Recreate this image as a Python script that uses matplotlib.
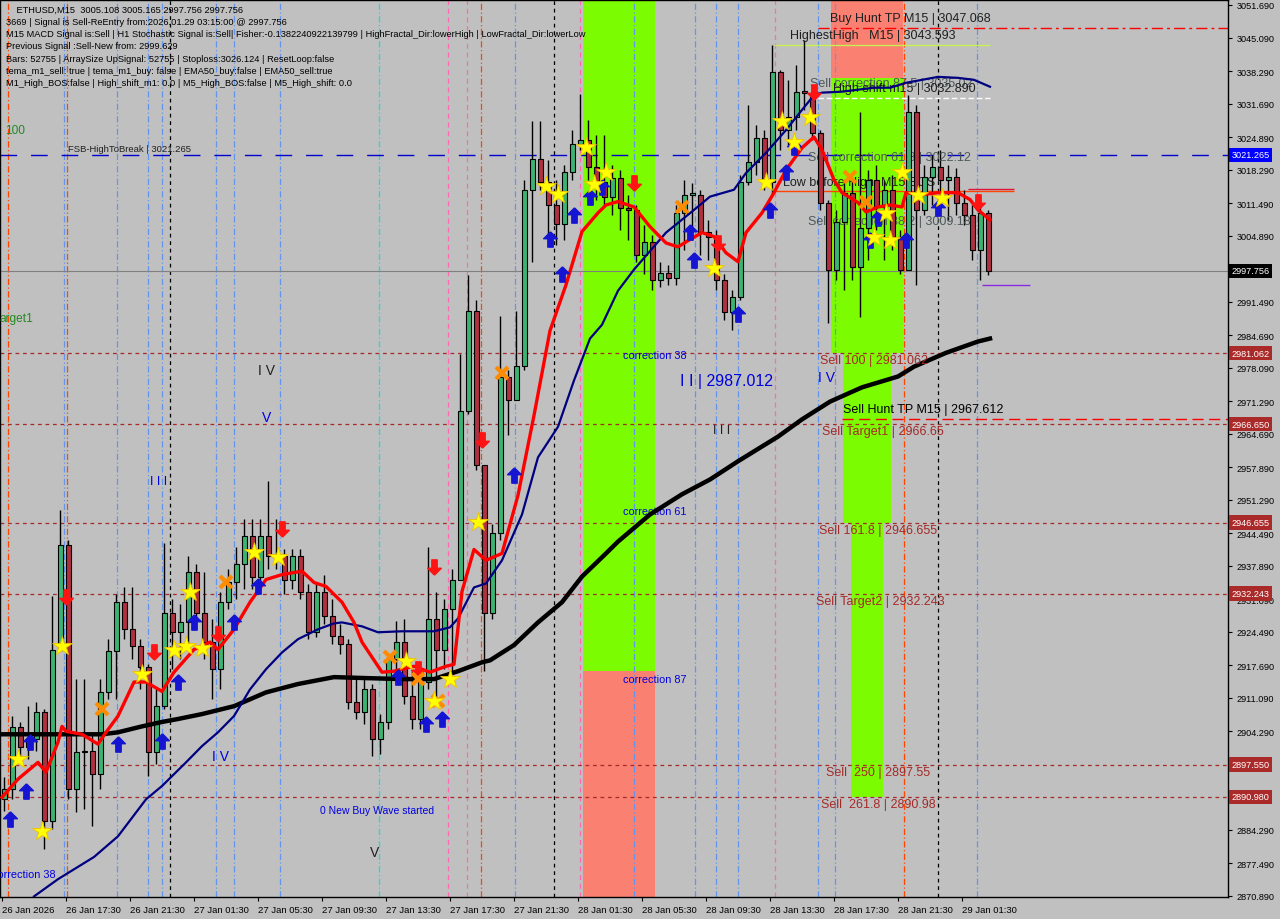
import matplotlib

matplotlib.use("Agg")
import matplotlib.pyplot as plt
from matplotlib.transforms import blended_transform_factory

plt.rcParams['font.family'] = ['Liberation Sans', 'DejaVu Sans']

# ETHUSD M15, drawn as 30-minute candles (bar index = M15 bars from 26 Jan 13:30)
first_open = 2890.5
close = [2892.6, 2905.1, 2901.1, 2902.7, 2908.2, 2886.1, 2920.9, 2942.2, 2892.6, 2900.1,
         2900.3, 2895.6, 2912.2, 2920.6, 2930.5, 2925.0, 2921.6, 2917.3, 2900.1, 2909.4,
         2928.4, 2924.4, 2926.4, 2936.6, 2928.4, 2922.4, 2916.9, 2930.5, 2934.5, 2938.2,
         2943.9, 2935.7, 2943.9, 2939.8, 2939.8, 2935.1, 2939.8, 2932.5, 2924.4, 2932.5,
         2927.6, 2923.6, 2922.0, 2910.2, 2908.2, 2912.8, 2902.7, 2906.2, 2918.9, 2922.4,
         2911.4, 2906.8, 2914.3, 2927.0, 2920.9, 2929.1, 2935.1, 2969.2, 2989.5, 2958.4,
         2928.4, 2944.5, 2976.3, 2971.6, 2978.5, 3014.2, 3020.5, 3015.8, 3011.1, 3007.3,
         3017.8, 3023.5, 3024.3, 3018.9, 3015.8, 3012.8, 3016.6, 3010.5, 3010.1, 3001.0,
         3003.6, 2995.9, 2997.4, 2996.3, 3009.5, 3013.2, 3013.2, 3005.7, 3004.7, 2995.9,
         2989.3, 2992.5, 3015.8, 3019.9, 3024.7, 3015.8, 3038.1, 3026.3, 3029.0, 3034.1,
         3033.9, 3025.7, 3011.6, 2998.0, 3007.7, 3013.6, 2998.6, 3006.5, 3016.2, 3010.7,
         3014.2, 3004.7, 2998.0, 3030.0, 3010.1, 3016.8, 3018.9, 3016.2, 3016.8, 3011.6,
         3009.1, 3002.0, 3009.5, 2997.756]
high = [2895.0, 2907.4, 2906.2, 2909.4, 2910.2, 2908.8, 2931.7, 2949.3, 2943.2, 2914.9,
        2914.9, 2903.7, 2914.9, 2923.0, 2932.1, 2933.5, 2933.5, 2923.0, 2917.9, 2912.8,
        2942.6, 2931.1, 2930.1, 2939.8, 2938.2, 2936.6, 2927.0, 2932.5, 2937.2, 2941.8,
        2947.3, 2947.3, 2947.3, 2955.0, 2947.3, 2941.2, 2941.2, 2941.2, 2934.1, 2934.1,
        2936.1, 2931.1, 2926.0, 2923.0, 2914.9, 2914.9, 2914.0, 2907.8, 2919.9, 2926.6,
        2927.0, 2916.9, 2916.9, 2941.8, 2932.5, 2931.1, 2937.2, 2980.9, 2996.8, 2991.9,
        2958.4, 2946.3, 2988.6, 2977.7, 2989.5, 3016.2, 3028.2, 3028.2, 3020.3, 3016.2,
        3019.3, 3026.3, 3033.6, 3028.4, 3025.3, 3025.3, 3019.3, 3018.2, 3013.2, 3011.1,
        3007.1, 3005.1, 2999.6, 2999.0, 3011.1, 3016.2, 3015.6, 3014.2, 3008.1, 3006.1,
        2997.0, 2993.9, 3017.2, 3031.4, 3027.4, 3026.3, 3043.6, 3038.5, 3036.5, 3039.5,
        3044.6, 3035.5, 3026.3, 3012.2, 3010.1, 3016.2, 3016.2, 3030.0, 3018.2, 3019.3,
        3016.2, 3017.2, 3006.1, 3033.4, 3031.4, 3019.3, 3021.3, 3022.3, 3019.3, 3018.6,
        3014.2, 3011.1, 3011.1, 3010.1]
low = [2888.1, 2890.5, 2897.6, 2898.6, 2900.3, 2880.4, 2884.5, 2920.9, 2890.5, 2887.9,
       2888.5, 2885.1, 2892.6, 2910.8, 2910.8, 2923.0, 2918.9, 2912.8, 2895.2, 2897.6,
       2908.8, 2916.9, 2918.9, 2920.9, 2927.0, 2918.9, 2910.8, 2912.8, 2929.1, 2931.1,
       2933.1, 2933.1, 2933.5, 2937.2, 2937.2, 2932.1, 2933.1, 2931.1, 2923.0, 2923.5,
       2926.0, 2922.0, 2919.9, 2908.8, 2906.8, 2905.7, 2899.3, 2899.7, 2904.7, 2916.9,
       2909.8, 2904.7, 2904.7, 2912.8, 2910.8, 2916.9, 2916.5, 2935.1, 2968.6, 2957.4,
       2916.5, 2927.0, 2943.2, 2964.5, 2971.6, 2977.7, 2999.6, 3014.2, 3004.1, 3003.0,
       3004.1, 3016.2, 3022.3, 3016.2, 3012.2, 3011.1, 3009.1, 3006.1, 3004.1, 2999.6,
       2997.0, 2993.9, 2994.5, 2994.9, 2994.9, 3002.0, 3004.1, 3001.0, 3000.0, 2993.9,
       2987.8, 2985.8, 2991.9, 3015.2, 3017.2, 3014.2, 3013.0, 3022.3, 3023.3, 3026.3,
       3030.4, 3024.3, 3010.1, 2987.2, 2995.9, 2993.9, 2995.9, 2988.4, 3000.0, 3006.1,
       3000.0, 3002.0, 2997.0, 2998.0, 2994.9, 3009.1, 3011.1, 3010.1, 3008.1, 3009.1,
       3007.1, 3000.0, 2995.9, 2996.8]

# moving averages
red_ema_bar = [0, 4, 9, 11, 14, 15, 16, 20, 24, 26, 29, 33, 36, 40, 43, 48, 52, 54, 58, 62,
               66, 70, 75, 78, 81, 85, 88, 90, 95, 98, 103, 107, 111, 113, 115, 118, 121, 125, 129, 133,
               137, 141, 145, 149, 151, 154, 158, 162, 166, 169, 172, 175, 178, 181, 184, 186, 190, 193, 196, 200,
               203, 205, 208, 210, 214, 216, 219, 222, 225, 226, 230, 234, 239, 242, 244, 247]
red_ema_val = [2890.9, 2894.6, 2898.0, 2896.0, 2902.1, 2905.3, 2904.3, 2903.7, 2901.7, 2904.1,
               2907.4, 2914.3, 2914.3, 2912.4, 2916.3, 2920.9, 2922.4, 2920.9, 2925.0, 2930.5,
               2935.1, 2936.1, 2936.8, 2934.5, 2933.7, 2930.5, 2926.4, 2922.4, 2916.3, 2916.5,
               2917.5, 2916.3, 2917.5, 2917.9, 2932.7, 2941.2, 2939.0, 2940.4, 2952.2, 2968.4,
               2985.6, 2994.9, 3005.7, 3009.5, 3011.1, 3011.8, 3010.7, 3006.7, 3003.4, 3002.6,
               3004.1, 3005.5, 3004.7, 3001.4, 2999.6, 3005.5, 3009.5, 3013.6, 3018.2, 3022.7,
               3024.9, 3022.3, 3016.2, 3013.6, 3011.6, 3009.7, 3010.7, 3011.1, 3010.7, 3013.6,
               3013.2, 3013.6, 3013.6, 3012.2, 3010.1, 3008.1]
navy_bar = [8, 14, 23, 29, 36, 40, 46, 50, 54, 58, 62, 66, 70, 74, 79, 83, 85, 90, 94, 100,
            108, 112, 114, 118, 121, 125, 130, 134, 139, 143, 147, 150, 154, 158, 166, 173, 177, 183, 186, 191,
            196, 200, 203, 205, 210, 214, 218, 222, 226, 230, 234, 239, 243, 247]
navy_val = [2870.8, 2874.3, 2878.8, 2883.0, 2890.5, 2893.2, 2898.0, 2901.3, 2904.1, 2907.4,
            2912.8, 2916.9, 2920.3, 2923.0, 2925.0, 2926.2, 2926.4, 2925.6, 2924.4, 2924.6,
            2924.6, 2925.4, 2927.2, 2933.5, 2934.3, 2939.0, 2948.3, 2959.9, 2966.1, 2975.5,
            2984.0, 2986.8, 2993.7, 2998.0, 3005.5, 3010.1, 3012.8, 3014.2, 3017.6, 3021.7,
            3026.3, 3030.4, 3033.4, 3033.9, 3034.1, 3034.5, 3034.9, 3034.9, 3035.9, 3036.5,
            3037.1, 3036.9, 3036.5, 3035.1]
black_bar = [0, 10, 25, 29, 35, 40, 44, 50, 58, 66, 74, 83, 91, 100, 108, 114, 120, 122, 128, 134,
             140, 145, 151, 154, 162, 170, 177, 184, 194, 200, 207, 215, 224, 228, 236, 244, 247]
black_val = [2903.7, 2903.7, 2903.7, 2904.1, 2905.3, 2906.2, 2906.8, 2907.8, 2909.4, 2912.2,
             2913.9, 2915.3, 2915.1, 2914.9, 2914.9, 2916.5, 2918.3, 2918.7, 2921.8, 2926.4,
             2930.5, 2935.7, 2940.4, 2942.8, 2948.3, 2952.4, 2955.4, 2959.1, 2964.1, 2967.6,
             2971.2, 2974.1, 2976.3, 2978.3, 2981.1, 2983.4, 2984.0]

# signal markers
star_bar = [4, 10, 15, 35, 43, 46, 47, 50, 63, 69, 101, 108, 112, 119, 136, 139, 146, 148, 151, 178,
            191, 195, 198, 202, 218, 221, 222, 225, 229, 235]
star_val = [2898.6, 2884.1, 2921.6, 2915.9, 2920.9, 2921.6, 2932.5, 2921.2, 2940.6, 2939.6,
            2918.5, 2910.4, 2914.9, 2946.7, 3015.0, 3013.4, 3022.9, 3015.4, 3017.8, 2998.4,
            3015.8, 3028.2, 3023.9, 3029.0, 3004.7, 3009.5, 3004.1, 3017.8, 3013.2, 3012.6]
cross_bar = [25, 56, 97, 104, 109, 125, 170, 212, 216]
cross_val = [2908.8, 2934.7, 2919.3, 2914.9, 2910.4, 2977.1, 3010.7, 3016.8, 3011.8]
up_bar = [2, 6, 7, 29, 40, 44, 48, 58, 64, 99, 106, 110, 128, 137, 140, 143, 147, 150, 172, 173,
          184, 192, 196, 198, 217, 219, 226, 234]
up_val = [2886.5, 2892.2, 2902.1, 2901.7, 2902.3, 2914.3, 2926.4, 2926.4, 2933.7, 2915.3,
          2905.7, 2906.8, 2956.4, 3004.3, 2997.2, 3009.1, 3012.8, 3014.8, 3005.7, 3000.0,
          2988.9, 3010.1, 3017.8, 3022.9, 3004.1, 3008.5, 3004.1, 3010.5]
down_bar = [16, 38, 54, 70, 104, 108, 120, 158, 179, 203, 244]
down_val = [2931.5, 2920.3, 2924.0, 2945.3, 2916.9, 2937.6, 2963.5, 3015.6, 3003.4, 3034.1, 3011.8]

# sell levels
level_price = [2981.062, 2966.650, 2946.655, 2932.243, 2897.550, 2890.980]
level_text = ["Sell 100 | 2981.062", "Sell Target1 | 2966.65", "Sell 161.8 | 2946.655",
              "Sell Target2 | 2932.243", "Sell  250 | 2897.55", "Sell  261.8 | 2890.98"]
level_text_bar = [204.5, 205.0, 204.25, 203.5, 206.0, 204.75]
level_box = ["2981.062", "2966.650", "2946.655", "2932.243", "2897.550", "2890.980"]

fsb_price = 3021.265
last_price = 2997.756

xtick_bar = [0, 16, 32, 48, 64, 80, 96, 112, 128, 144, 160, 176, 192, 208, 224, 240]
xtick_lab = ["26 Jan 2026", "26 Jan 17:30", "26 Jan 21:30", "27 Jan 01:30", "27 Jan 05:30",
             "27 Jan 09:30", "27 Jan 13:30", "27 Jan 17:30", "27 Jan 21:30", "28 Jan 01:30",
             "28 Jan 05:30", "28 Jan 09:30", "28 Jan 13:30", "28 Jan 17:30", "28 Jan 21:30",
             "29 Jan 01:30"]
ytick_val = [3051.69, 3045.09, 3038.29, 3031.69, 3024.89, 3018.29, 3011.49, 3004.89, 2991.49,
             2984.69, 2978.09, 2971.29, 2964.69, 2957.89, 2951.29, 2944.49, 2937.89, 2931.09,
             2924.49, 2917.69, 2911.09, 2904.29, 2884.29, 2877.49, 2870.89]

info_lines = [
    "    ETHUSD,M15  3005.108 3005.165 2997.756 2997.756",
    "3669 | Signal is Sell-ReEntry from:2026.01.29 03:15:00 @ 2997.756",
    "M15 MACD Signal is:Sell | H1 Stochastic Signal is:Sell| Fisher:-0.1382240922139799 | HighFractal_Dir:lowerHigh | LowFractal_Dir:lowerLow",
    "Previous Signal :Sell-New from: 2999.629",
    "Bars: 52755 | ArraySize UpSignal: 52755 | Stoploss:3026.124 | ResetLoop:false",
    "tema_m1_sell: true | tema_m1_buy: false | EMA50_buy:false | EMA50_sell:true",
    "M1_High_BOS:false | High_shift_m1: 0.0 | M5_High_BOS:false | M5_High_shift: 0.0",
]

vl_orange = [1.5, 16.25, 119.75, 225.5]
vl_blue = [15.5, 28.75, 36.5, 40, 53.5, 58, 69.5, 128.25, 158, 173.25, 178.5, 184, 204, 208.25, 243.75]
vl_pink = [111.5, 116.25, 144.5, 193.25]
vl_cyan = [94.25]
day_bar = [42, 138, 234]

W, H = 1280, 920
fig = plt.figure(figsize=(12.8, 9.2), dpi=100)
fig.patch.set_facecolor("#c0c0c0")
ax = fig.add_axes([0, 22 / H, 1228 / W, 897 / H])
ax.set_facecolor("#c0c0c0")
ax.set_xlim(-0.5, 306.5)
ax.set_ylim(2870.68, 3052.7)

# zones
ax.fill_between([145.25, 163.25], 2916.5, 3052.7, color="#7cfc00", lw=0, zorder=0)
ax.fill_between([145.25, 163.25], 2870.68, 2916.5, color="#fa8072", lw=0, zorder=0)
ax.fill_between([207.25, 225.25], 3036.9, 3052.7, color="#fa8072", lw=0, zorder=0)
ax.fill_between([207.25, 225.25], 2981.062, 3036.9, color="#7cfc00", lw=0, zorder=0)
ax.fill_between([210.25, 222.25], 2946.655, 2981.062, color="#7cfc00", lw=0, zorder=0)
ax.fill_between([212.25, 220.25], 2890.98, 2946.655, color="#7cfc00", lw=0, zorder=0)

# vertical indicator lines
for b in vl_orange:
    ax.axvline(b, color="#ff4500", lw=0.9, ls=(0, (5, 2, 1, 2)), zorder=1)
for b in vl_blue:
    ax.axvline(b, color="#6495ed", lw=0.9, ls=(0, (5, 2, 1, 2)), zorder=1)
for b in vl_pink:
    ax.axvline(b, color="#ff69b4", lw=0.9, ls=(0, (4, 3)), zorder=1)
for b in vl_cyan:
    ax.axvline(b, color="#00e5ee", lw=0.9, ls=(0, (5, 2, 1, 2)), zorder=1)
for b in day_bar:
    ax.axvline(b, color="black", lw=0.9, ls=(0, (3, 3)), zorder=1)

# horizontal levels
for p in level_price:
    ax.axhline(p, color="#a52a2a", lw=0.9, ls=(0, (3, 3)), zorder=1)
ax.axhline(fsb_price, color="#0000cd", lw=1.0, ls=(0, (12, 10)), zorder=1)
ax.axhline(last_price, color="#808080", lw=0.8, zorder=1)
ax.hlines(3047.068, 204, 306.5, color="#ff0000", lw=1.0, ls=(0, (8, 3, 2, 3)), zorder=2)
ax.hlines(2967.612, 210, 306.5, color="#ff0000", lw=1.0, ls=(0, (8, 4)), zorder=2)
ax.hlines(3043.593, 193, 247, color="#c8f050", lw=1.0, zorder=2)
ax.hlines(3032.890, 204, 247, color="white", lw=1.0, ls=(0, (4, 2)), zorder=2)
ax.hlines(3013.98, 193, 253, color="#ff4500", lw=1.0, zorder=2)
ax.hlines(3014.4, 241.5, 253, color="#dc143c", lw=1.0, zorder=2)
ax.hlines(2994.9, 245, 257, color="#8a2be2", lw=1.0, zorder=2)

# candles
opens = [first_open] + close[:-1]
for k in range(len(close)):
    x = 2 * k + 0.5
    o, c = opens[k], close[k]
    ax.vlines(x, low[k], high[k], color="black", lw=1.0, zorder=3)
    fc = "#3cb371" if c >= o else "#b03040"
    ax.bar(x, max(abs(c - o), 0.25), bottom=min(o, c), width=1.25, color=fc,
           edgecolor="black", lw=0.8, zorder=4)

# moving averages
ax.plot(black_bar, black_val, color="black", lw=3.2, zorder=5)
ax.plot(navy_bar, navy_val, color="#000080", lw=1.6, zorder=5)
ax.plot(red_ema_bar, red_ema_val, color="#ff0000", lw=2.4, zorder=6)

# markers
up_arrow = [(0, 1), (0.9, 0.1), (0.35, 0.1), (0.35, -1), (-0.35, -1), (-0.35, 0.1), (-0.9, 0.1), (0, 1)]
down_arrow = [(x, -y) for x, y in up_arrow]
ax.plot(up_bar, up_val, ls="none", marker=up_arrow, ms=11, color="#1414d2", zorder=7)
ax.plot(down_bar, down_val, ls="none", marker=down_arrow, ms=11, color="#ff1414", zorder=7)
ax.plot(cross_bar, cross_val, ls="none", marker="x", ms=8, mew=3, color="#ff8c00", zorder=7)
ax.plot(star_bar, star_val, ls="none", marker="*", ms=15, color="#ffff00",
        markeredgecolor="#f0c000", mew=0.6, zorder=8)

# chart labels
for b, p, t in zip(level_text_bar, level_price, level_text):
    ax.text(b, p - 1.5, t, color="#a52a2a", fontsize=9, va="center", ha="left", zorder=9)
ax.text(16.5, 3022.5, "FSB-HighToBreak | 3021.265", fontsize=6.8, color="#202020", va="center")
ax.text(207, 3049.0, "Buy Hunt TP M15 | 3047.068", fontsize=9, color="#202020", va="center")
ax.text(197, 3045.6, "HighestHigh   M15 | 3043.593", fontsize=9, color="#202020", va="center")
ax.text(202, 3035.8, "Sell correction 87.5 | 3035.02", fontsize=9, color="#4c5858", va="center")
ax.text(207.75, 3034.9, "High shift m15 | 3032.890", fontsize=9, color="#202020", va="center")
ax.text(201.5, 3020.9, "Sell correction 61.8 | 3022.12", fontsize=9, color="#4c5858", va="center")
ax.text(195.25, 3015.8, "Low before High  M15 BOS", fontsize=9, color="#202020", va="center")
ax.text(201.5, 3007.9, "Sell correction 38.2 | 3009.18", fontsize=9, color="#4c5858", va="center")
ax.text(210.25, 2969.8, "Sell Hunt TP M15 | 2967.612", fontsize=9, color="black", va="center", zorder=9)
corr_price = [2980.7, 2949.1, 2914.9]
corr_text = ["correction 38", "correction 61", "correction 87"]
for p, lab in zip(corr_price, corr_text):
    ax.text(155.25, p, lab, fontsize=7.8, color="#0000e0", va="center")
ax.text(-2.5, 2875.3, "correction 38", fontsize=7.8, color="#0000e0", va="center", clip_on=True)
ax.text(169.5, 2975.5, "I I | 2987.012", fontsize=11.5, color="#0000e0", va="center")
ax.text(79.5, 2888.3, "0 New Buy Wave started", fontsize=7.5, color="#0000e0", va="center")
ax.text(0.75, 3026.4, "100", fontsize=8.6, color="#228b22", va="center")
ax.text(-0.5, 2988.2, "arget1", fontsize=8.6, color="#228b22", va="center")
ax.text(64, 2977.7, "I V", fontsize=10, color="#202020", va="center")
ax.text(65, 2968.0, "V", fontsize=10, color="#0000e0", va="center")
ax.text(52.5, 2899.3, "I V", fontsize=10, color="#0000e0", va="center")
ax.text(204, 2976.3, "I V", fontsize=10, color="#0000e0", va="center")
ax.text(92, 2879.8, "V", fontsize=10, color="#202020", va="center")
ax.text(37, 2955.0, "I I I", fontsize=9, color="#0000e0", va="center")
ax.text(177.75, 2965.5, "I I I", fontsize=9, color="#202020", va="center")

# axes styling
ax.yaxis.tick_right()
ax.set_yticks(ytick_val)
ax.set_yticklabels([f"{v:.3f}" for v in ytick_val])
ax.tick_params(axis="y", labelsize=6.6, length=3, pad=3, direction="out", colors="black")
ax.set_xticks(xtick_bar)
ax.set_xticklabels(xtick_lab)
ax.tick_params(axis="x", labelsize=6.8, length=3, pad=3, direction="out")
for lab in ax.get_xticklabels():
    lab.set_ha("left")
for s in ax.spines.values():
    s.set_color("black")
    s.set_linewidth(1.0)

# price boxes on the right axis
tr = blended_transform_factory(ax.transAxes, ax.transData)
box_items = [(fsb_price, "3021.265", "#0000ff"), (last_price, "2997.756", "black")]
box_items += [(p, t, "#aa2a2a") for p, t in zip(level_price, level_box)]
for p, t, c in box_items:
    ax.text(1.0028, p, t, transform=tr, fontsize=6.6, color="white", va="center", ha="left",
            clip_on=False, bbox=dict(boxstyle="square,pad=0.3", fc=c, ec="none"), zorder=10)

for n, line in enumerate(info_lines):
    fig.text(6 / W, 1 - (10 + 12.3 * n) / H, line, fontsize=6.7, color="black", va="center", ha="left")

fig.savefig("out.png", dpi=100, facecolor=fig.get_facecolor())
